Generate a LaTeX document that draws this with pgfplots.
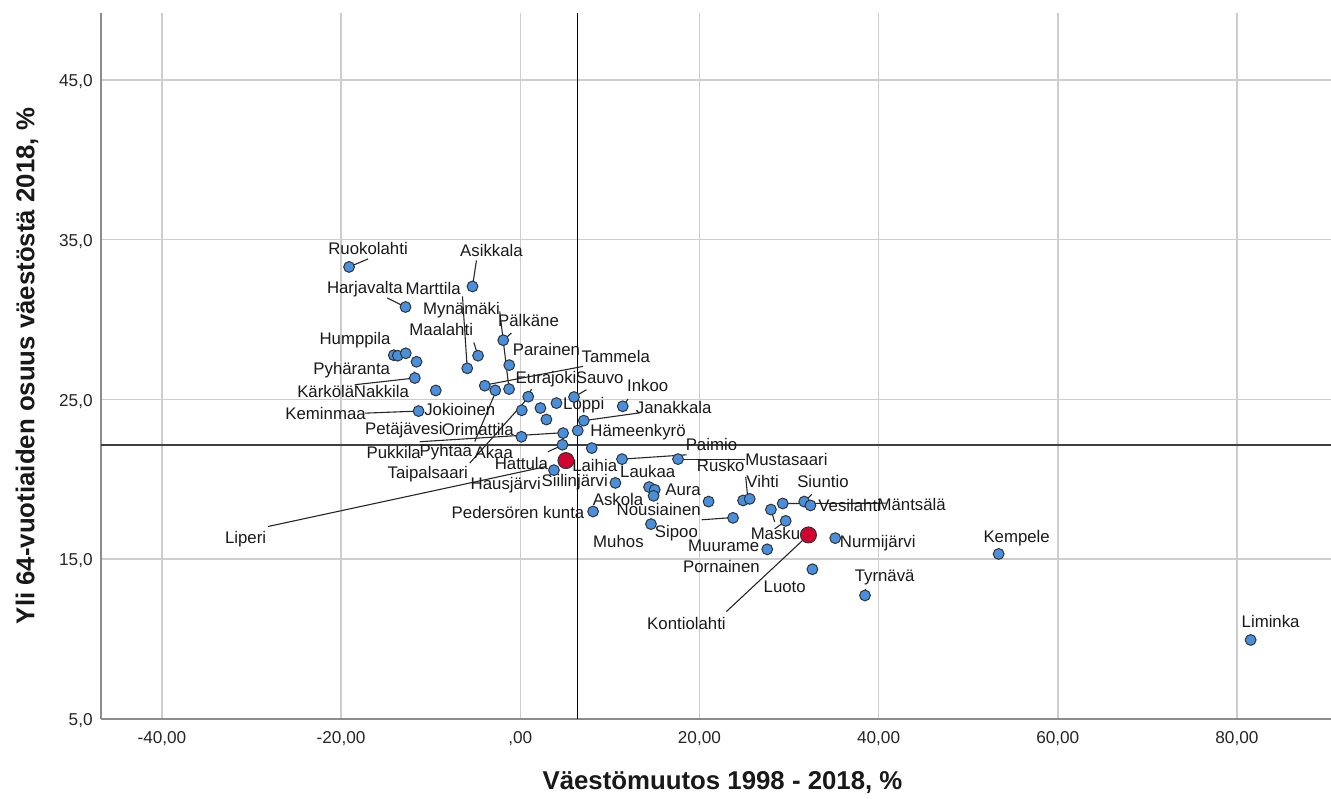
\documentclass[border=0pt]{standalone}
\usepackage{pgfplots}
\pgfplotsset{compat=1.18}
\usepackage{fontspec}
\setmainfont{Liberation Sans}
\definecolor{ptblue}{RGB}{72,143,222}
\definecolor{ptred}{RGB}{208,2,48}
\definecolor{gridc}{RGB}{205,205,205}
\definecolor{axc}{RGB}{140,140,140}
\tikzset{
  lab/.style={font=\fontsize{8.4}{10}\selectfont, text=black!90, inner sep=0pt, anchor=center},
  leader/.style={black!85, line width=0.55pt},
}
\begin{document}
\begin{tikzpicture}
\path[use as bounding box] (0,0) rectangle (665.5pt,399pt);
\begin{axis}[
  at={(50.5pt,39.75pt)}, anchor=south west,
  scale only axis, width=615pt, height=352.75pt,
  xmin=-46.8, xmax=90.5, ymin=5, ymax=49.2,
  axis lines*=left,
  axis line style={axc, line width=1pt},
  grid=major,
  grid style={gridc, line width=0.75pt},
  xtick={-40,-20,0,20,40,60,80},
  xticklabels={{-40,00},{-20,00},{,00},{20,00},{40,00},{60,00},{80,00}},
  ytick={5,15,25,35,45},
  yticklabels={{5,0},{15,0},{25,0},{35,0},{45,0}},
  major tick length=0pt,
  tick style={draw=none},
  ticklabel style={font=\fontsize{8.6}{10}\selectfont, text=black!85},
  xticklabel style={anchor=center, yshift=-10.25pt},
  yticklabel style={anchor=east, inner sep=0pt, xshift=-4pt, yshift=-1pt},
  clip=false,
]
% reference lines
\draw[black!75, line width=1.2pt] (axis cs:-46.8,22.15) -- (axis cs:90.5,22.15);
\draw[black, line width=0.8pt] (axis cs:6.4,5) -- (axis cs:6.4,49.2);
% leader lines
\draw[leader] (axis cs:-19.11,33.29) -- (axis cs:-16.99,33.79);
\draw[leader] (axis cs:-5.33,32.07) -- (axis cs:-4.89,33.70);
\draw[leader] (axis cs:-12.81,30.78) -- (axis cs:-14.87,31.35);
\draw[leader] (axis cs:-6.45,31.45) -- (axis cs:-5.92,26.94);
\draw[leader] (axis cs:-2.29,30.50) -- (axis cs:-1.25,25.64);
\draw[leader] (axis cs:-1.90,28.70) -- (axis cs:-0.98,29.15);
\draw[leader] (axis cs:-4.71,27.73) -- (axis cs:-5.19,28.56);
\draw[leader] (axis cs:-14.37,28.06) -- (axis cs:-13.90,27.76);
\draw[leader] (axis cs:-18.47,25.91) -- (axis cs:-11.77,26.33);
\draw[leader] (axis cs:-11.85,26.75) -- (axis cs:-11.77,26.33);
\draw[leader] (axis cs:-17.35,24.13) -- (axis cs:-11.35,24.26);
\draw[leader] (axis cs:0.89,25.16) -- (axis cs:1.25,25.64);
\draw[leader] (axis cs:-3.74,25.91) -- (axis cs:7.01,27.06);
\draw[leader] (axis cs:6.00,25.14) -- (axis cs:7.39,25.60);
\draw[leader] (axis cs:11.44,24.56) -- (axis cs:12.03,25.01);
\draw[leader] (axis cs:-2.79,25.41) -- (axis cs:-5.08,22.35);
\draw[leader] (axis cs:0.69,24.97) -- (axis cs:-5.64,21.0);
\draw[leader] (axis cs:-11.22,22.34) -- (axis cs:4.63,22.90);
\draw[leader] (axis cs:7.09,23.66) -- (axis cs:13.34,24.15);
\draw[leader] (axis cs:3.07,21.71) -- (axis cs:4.52,22.08);
\draw[leader] (axis cs:-28.15,17.03) -- (axis cs:2.92,20.79);
\draw[leader] (axis cs:11.36,21.25) -- (axis cs:18.58,21.52);
\draw[leader] (axis cs:17.61,21.25) -- (axis cs:25.06,21.25);
\draw[leader] (axis cs:25.39,18.82) -- (axis cs:25.17,20.14);
\draw[leader] (axis cs:29.30,18.47) -- (axis cs:40.90,18.49);
\draw[leader] (axis cs:20.26,17.45) -- (axis cs:23.75,17.59);
\draw[leader] (axis cs:27.98,18.09) -- (axis cs:28.40,17.32);
\draw[leader] (axis cs:29.63,17.38) -- (axis cs:28.40,16.88);
\draw[leader] (axis cs:23.01,11.70) -- (axis cs:32.17,16.50);
\draw[leader] (axis cs:31.75,18.59) -- (axis cs:32.53,19.04);
\draw[leader] (axis cs:38.48,12.71) -- (axis cs:38.56,13.12);
% blue points
\addplot[only marks, mark=*, mark size=2.7pt, mark options={fill=ptblue, draw=black!80, line width=0.5pt}] coordinates {
(-19.11,33.29) (-5.33,32.07) (-12.81,30.78) (-1.90,28.70) (-4.71,27.73)
(-5.92,26.94) (-1.23,27.14) (-14.12,27.76) (-13.67,27.73) (-12.78,27.88)
(-11.58,27.35) (-11.77,26.33) (-9.43,25.55) (-11.35,24.26) (-3.96,25.85)
(-2.79,25.56) (-1.25,25.64) (0.89,25.16) (4.04,24.76) (6.00,25.14)
(11.44,24.56) (0.17,24.31) (2.25,24.45) (2.92,23.73) (7.09,23.66)
(6.42,23.04) (4.78,22.88) (0.13,22.65) (4.71,22.15) (7.98,21.94)
(3.76,20.56) (11.36,21.25) (17.61,21.25) (10.62,19.76) (14.38,19.50)
(15.01,19.33) (14.88,18.95) (8.13,17.97) (21.02,18.59) (24.87,18.66)
(25.61,18.76) (27.98,18.09) (29.30,18.47) (31.70,18.59) (32.39,18.35)
(23.75,17.57) (29.63,17.38) (14.59,17.18) (35.16,16.30) (27.57,15.60)
(32.61,14.35) (38.48,12.71) (53.40,15.31) (81.53,9.92)
};
% red points
\addplot[only marks, mark=*, mark size=4pt, mark options={fill=ptred, draw=black!80, line width=0.5pt}] coordinates {
(5.10,21.16) (32.17,16.50)
};
% labels
\node[lab] at (axis cs:-16.99,34.44) {Ruokolahti};
\node[lab] at (axis cs:-3.21,34.33) {Asikkala};
\node[lab] at (axis cs:-17.35,31.87) {Harjavalta};
\node[lab] at (axis cs:-9.73,31.91) {Marttila};
\node[lab] at (axis cs:-6.56,30.61) {Mynämäki};
\node[lab] at (axis cs:0.92,29.94) {Pälkäne};
\node[lab] at (axis cs:-8.82,29.36) {Maalahti};
\node[lab] at (axis cs:-18.44,28.73) {Humppila};
\node[lab] at (axis cs:2.92,28.10) {Parainen};
\node[lab] at (axis cs:10.66,27.65) {Tammela};
\node[lab] at (axis cs:-18.81,26.85) {Pyhäranta};
\node[lab] at (axis cs:-21.71,25.49) {Kärkölä};
\node[lab] at (axis cs:-15.49,25.49) {Nakkila};
\node[lab] at (axis cs:2.88,26.27) {Eurajoki};
\node[lab] at (axis cs:8.87,26.33) {Sauvo};
\node[lab] at (axis cs:14.23,25.85) {Inkoo};
\node[lab] at (axis cs:-21.73,24.13) {Keminmaa};
\node[lab] at (axis cs:-6.75,24.34) {Jokioinen};
\node[lab] at (axis cs:7.09,24.66) {Loppi};
\node[lab] at (axis cs:17.13,24.47) {Janakkala};
\node[lab] at (axis cs:-13.00,23.09) {Petäjävesi};
\node[lab] at (axis cs:-4.74,23.09) {Orimattila};
\node[lab] at (axis cs:13.15,22.92) {Hämeenkyrö};
\node[lab] at (axis cs:-14.12,21.66) {Pukkila};
\node[lab] at (axis cs:-8.31,21.66) {Pyhtää};
\node[lab] at (axis cs:-2.96,21.66) {Akaa};
\node[lab] at (axis cs:21.34,22.15) {Paimio};
\node[lab] at (axis cs:0.13,21.00) {Hattula};
\node[lab] at (axis cs:8.31,20.83) {Laihia};
\node[lab] at (axis cs:-10.32,20.31) {Taipalsaari};
\node[lab] at (axis cs:22.38,20.83) {Rusko};
\node[lab] at (axis cs:29.71,21.21) {Mustasaari};
\node[lab] at (axis cs:14.23,20.47) {Laukaa};
\node[lab] at (axis cs:-1.62,19.64) {Hausjärvi};
\node[lab] at (axis cs:6.08,19.78) {Siilinjärvi};
\node[lab] at (axis cs:27.06,19.85) {Vihti};
\node[lab] at (axis cs:33.79,19.85) {Siuntio};
\node[lab] at (axis cs:18.17,19.33) {Aura};
\node[lab] at (axis cs:10.92,18.70) {Askola};
\node[lab] at (axis cs:36.77,18.32) {Vesilahti};
\node[lab] at (axis cs:43.69,18.39) {Mäntsälä};
\node[lab] at (axis cs:15.46,18.07) {Nousiainen};
\node[lab] at (axis cs:-0.25,17.90) {Pedersören kunta};
\node[lab] at (axis cs:17.43,16.61) {Sipoo};
\node[lab] at (axis cs:28.49,16.57) {Masku};
\node[lab] at (axis cs:39.90,15.98) {Nurmijärvi};
\node[lab] at (axis cs:10.96,16.08) {Muhos};
\node[lab] at (axis cs:22.71,15.82) {Muurame};
\node[lab] at (axis cs:22.46,14.52) {Pornainen};
\node[lab] at (axis cs:55.41,16.32) {Kempele};
\node[lab] at (axis cs:40.68,13.85) {Tyrnävä};
\node[lab] at (axis cs:29.52,13.26) {Luoto};
\node[lab] at (axis cs:18.55,10.97) {Kontiolahti};
\node[lab] at (axis cs:83.76,11.05) {Liminka};
\node[lab] at (axis cs:-30.66,16.24) {Liperi};
\end{axis}
\node[font=\bfseries\fontsize{12.9}{15}\selectfont, text=black!90, inner sep=0pt] at (361.25pt,8pt) {Väestömuutos 1998 - 2018, \%};
\node[font=\bfseries\fontsize{12.9}{15}\selectfont, text=black!90, rotate=90, inner sep=0pt] at (13.5pt,216pt) {Yli 64-vuotiaiden osuus väestöstä 2018, \%};
\end{tikzpicture}
\end{document}
